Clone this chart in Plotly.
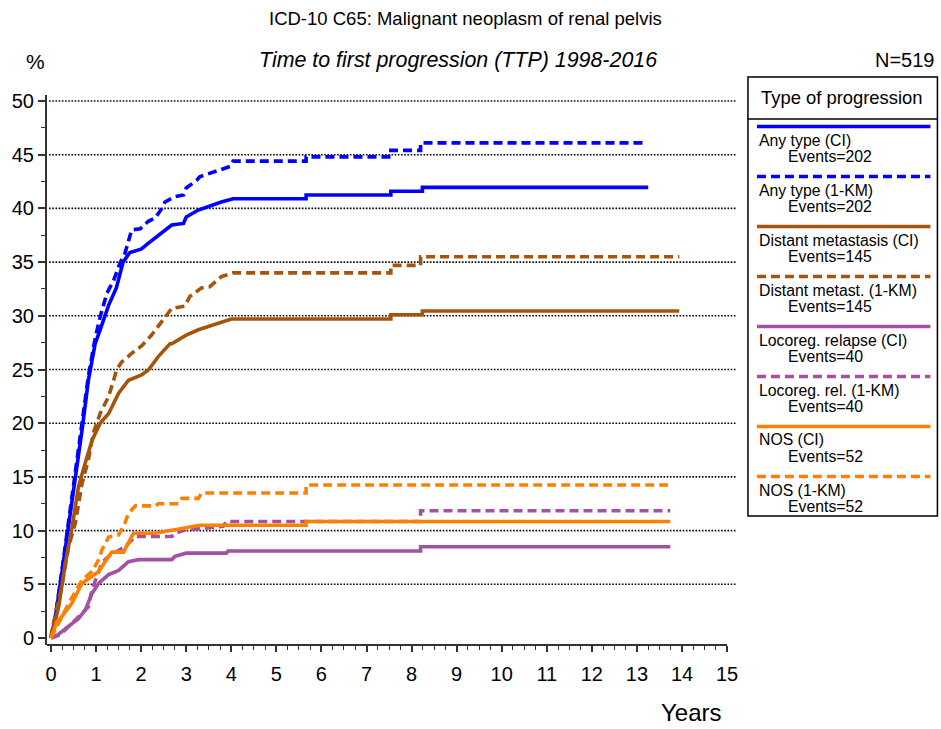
import plotly.graph_objects as go

# ---------------- data ----------------
SERIES_NAMES = ["Any type (CI)", "Any type (1-KM)", "Distant metastasis (CI)",
                "Distant metast. (1-KM)", "Locoreg. relapse (CI)", "Locoreg. rel. (1-KM)",
                "NOS (CI)", "NOS (1-KM)"]
EVENTS = [202, 202, 145, 145, 40, 40, 52, 52]

any_ci_t = [0, 0.1, 0.24, 0.39, 0.54, 0.69, 0.83, 0.98, 1.09, 1.2, 1.28, 1.45, 1.6, 1.75, 1.84, 2.0,
            2.17, 2.35, 2.46, 2.68, 2.94, 3.0, 3.27, 3.49, 3.78, 4.04, 5.66, 5.66, 7.54, 7.54, 8.24, 8.24, 13.25]
any_ci_v = [0, 2.0, 6.0, 10.4, 15.0, 19.4, 24.0, 27.4, 28.7, 30.0, 31.0, 32.6, 35.0, 35.9, 36.0, 36.2,
            36.8, 37.4, 37.7, 38.45, 38.6, 39.2, 39.85, 40.2, 40.6, 40.9, 40.9, 41.25, 41.25, 41.6, 41.6, 41.96, 41.96]

any_km_t = [0, 0.1, 0.24, 0.39, 0.54, 0.69, 0.83, 0.98, 1.09, 1.24, 1.39, 1.53, 1.64, 1.79, 1.98, 2.16,
            2.31, 2.46, 2.53, 2.75, 2.94, 3.0, 3.23, 3.3, 3.56, 3.75, 3.97, 4.04, 5.66, 5.66, 7.54, 7.54,
            8.2, 8.2, 13.2]
any_km_v = [0, 2.1, 6.2, 10.7, 15.3, 19.8, 24.4, 27.9, 29.9, 32.1, 33.3, 34.9, 35.8, 38.0, 38.1, 38.8,
            39.1, 40.0, 40.6, 41.1, 41.25, 41.9, 42.6, 42.95, 43.3, 43.6, 43.9, 44.4, 44.4, 44.8, 44.8, 45.4,
            45.4, 46.1, 46.1]

dist_ci_t = [0, 0.02, 0.17, 0.32, 0.46, 0.61, 0.76, 0.91, 1.09, 1.28, 1.5, 1.72, 2.01, 2.16, 2.38,
             2.64, 2.68, 3.0, 3.27, 3.56, 3.78, 4.0, 7.54, 7.54, 8.24, 8.24, 13.94]
dist_ci_v = [0, 0.3, 2.9, 7.0, 10.1, 14.1, 16.3, 18.4, 20.0, 20.9, 22.8, 24.0, 24.5, 24.95, 26.2,
             27.4, 27.4, 28.2, 28.7, 29.1, 29.45, 29.7, 29.7, 30.1, 30.1, 30.45, 30.45]

dist_km_t = [0, 0.02, 0.24, 0.39, 0.54, 0.69, 0.83, 0.94, 1.09, 1.28, 1.46, 1.57, 1.79, 2.01, 2.23,
             2.53, 2.68, 2.97, 3.08, 3.34, 3.52, 3.78, 4.04, 7.54, 7.54, 8.2, 8.2, 13.94]
dist_km_v = [0, 0.7, 4.8, 8.5, 10.7, 14.4, 16.6, 19.1, 20.9, 22.5, 25.0, 25.7, 26.5, 27.2, 28.2,
             29.8, 30.7, 30.9, 31.8, 32.6, 32.7, 33.65, 34.0, 34.0, 34.7, 34.7, 35.5, 35.5]

loco_ci_t = [0, 0.17, 0.39, 0.61, 0.76, 0.91, 1.06, 1.28, 1.5, 1.72, 1.94, 2.68, 2.75, 3.0, 3.89,
             3.93, 8.2, 8.2, 13.74]
loco_ci_v = [0, 0.35, 1.1, 1.8, 2.6, 4.15, 5.1, 5.9, 6.3, 7.1, 7.3, 7.3, 7.6, 7.9, 7.9,
             8.1, 8.1, 8.5, 8.5]

loco_km_t = [0, 0.2, 0.39, 0.69, 0.83, 0.91, 1.02, 1.13, 1.28, 1.46, 1.64, 1.87, 2.68, 2.75, 2.97,
             3.34, 3.82, 3.89, 8.2, 8.2, 13.74]
loco_km_v = [0, 0.3, 1.05, 2.3, 2.9, 4.5, 5.7, 7.0, 7.6, 8.05, 8.5, 9.45, 9.45, 9.75, 10.05,
             10.2, 10.4, 10.85, 10.85, 11.85, 11.85]

nos_ci_t = [0, 0.13, 0.24, 0.46, 0.69, 0.91, 1.06, 1.2, 1.35, 1.61, 1.83, 2.31, 2.9, 3.3, 5.66, 5.66, 13.74]
nos_ci_v = [0, 1.5, 2.0, 3.2, 5.1, 5.7, 6.2, 7.1, 8.0, 8.0, 9.75, 9.75, 10.2, 10.5, 10.5, 10.85, 10.85]

nos_km_t = [0, 0.21, 0.39, 0.69, 0.91, 1.06, 1.13, 1.28, 1.5, 1.64, 1.72, 1.87, 2.31, 2.38, 2.83,
            2.9, 3.27, 3.34, 5.66, 5.66, 13.7]
nos_km_v = [0, 1.7, 3.2, 5.4, 6.2, 7.3, 8.2, 9.4, 9.6, 10.7, 11.6, 12.3, 12.3, 12.5, 12.5,
            13.0, 13.0, 13.5, 13.5, 14.25, 14.25]

SERIES_T = [any_ci_t, any_km_t, dist_ci_t, dist_km_t, loco_ci_t, loco_km_t, nos_ci_t, nos_km_t]
SERIES_V = [any_ci_v, any_km_v, dist_ci_v, dist_km_v, loco_ci_v, loco_km_v, nos_ci_v, nos_km_v]

X_TICKS = list(range(0, 16))
Y_TICKS = list(range(0, 51, 5))

# ---------------- styles ----------------
COLORS = ["#0000FF", "#0000FF", "#A5540C", "#A5540C", "#A352A3", "#A352A3", "#FF8000", "#FF8000"]
DASHES = ["solid", "9px,5px"] * 4
FONT = "Liberation Sans, Arial, sans-serif"

W, H = 941, 729
ML, MR, MT, MB = 45, 204, 95, 84
XMIN, XMAX = -0.0885, 15.22
YMIN, YMAX = -0.65, 50.56

PW = W - ML - MR
PH = H - MT - MB


def px(x):
    return (x - ML) / PW


def py(y):
    return (H - MB - y) / PH


fig = go.Figure()
for name, t, v, c, d in zip(SERIES_NAMES, SERIES_T, SERIES_V, COLORS, DASHES):
    fig.add_trace(go.Scatter(x=t, y=v, mode="lines", name=name,
                             line=dict(color=c, width=3.6, dash=d), showlegend=False))

shapes = []
# dotted horizontal gridlines (except 0)
for v in Y_TICKS[1:]:
    shapes.append(dict(type="line", xref="paper", yref="y", x0=0.003, x1=1, y0=v, y1=v,
                       line=dict(color="black", width=1.6, dash="1.6px,1.6px"), layer="below"))
# x axis line (ends at last tick)
shapes.append(dict(type="line", xref="x", yref="paper", x0=XMIN, x1=X_TICKS[-1], y0=0, y1=0,
                   line=dict(color="#333333", width=2)))

annotations = []
# legend box
lx0, lx1, ly0, ly1 = 748, 938, 77, 516
shapes.append(dict(type="rect", xref="paper", yref="paper", x0=px(lx0), x1=px(lx1), y0=py(ly0), y1=py(ly1),
                   line=dict(color="black", width=1.5), fillcolor="rgba(0,0,0,0)"))
shapes.append(dict(type="line", xref="paper", yref="paper", x0=px(lx0), x1=px(lx1), y0=py(119), y1=py(119),
                   line=dict(color="black", width=1.5)))
annotations.append(dict(text="Type of progression", xref="paper", yref="paper", x=px(759), y=py(97),
                        xanchor="left", yanchor="middle", showarrow=False,
                        font=dict(family=FONT, size=18.4, color="black")))
for i, (name, ev, c, d) in enumerate(zip(SERIES_NAMES, EVENTS, COLORS, DASHES)):
    yl = 126.5 + 50 * i
    shapes.append(dict(type="line", xref="paper", yref="paper", x0=px(757), x1=px(931), y0=py(yl), y1=py(yl),
                       line=dict(color=c, width=3.6, dash=d)))
    annotations.append(dict(text=name, xref="paper", yref="paper", x=px(757), y=py(yl + 13.5),
                            xanchor="left", yanchor="middle", showarrow=False,
                            font=dict(family=FONT, size=15.8, color="black")))
    annotations.append(dict(text=f"Events={ev}", xref="paper", yref="paper", x=px(786), y=py(yl + 30),
                            xanchor="left", yanchor="middle", showarrow=False,
                            font=dict(family=FONT, size=15.8, color="black")))

# titles & labels
annotations += [
    dict(text="ICD-10 C65: Malignant neoplasm of renal pelvis", xref="paper", yref="paper",
         x=px(465), y=py(18), xanchor="center", yanchor="middle", showarrow=False,
         font=dict(family=FONT, size=18.5, color="black")),
    dict(text="<i>Time to first progression (TTP) 1998-2016</i>", xref="paper", yref="paper",
         x=px(457), y=py(60), xanchor="center", yanchor="middle", showarrow=False,
         font=dict(family=FONT, size=21.4, color="black")),
    dict(text="%", xref="paper", yref="paper", x=px(33), y=py(62), xanchor="center", yanchor="middle",
         showarrow=False, font=dict(family=FONT, size=21, color="black")),
    dict(text="N=519", xref="paper", yref="paper", x=px(938), y=py(60), xanchor="right", yanchor="middle",
         showarrow=False, font=dict(family=FONT, size=20, color="black")),
    dict(text="Years", xref="paper", yref="paper", x=px(691), y=py(712), xanchor="center", yanchor="middle",
         showarrow=False, font=dict(family=FONT, size=24, color="black")),
]

fig.update_layout(
    width=W, height=H, autosize=False,
    margin=dict(l=ML, r=MR, t=MT, b=MB, pad=0),
    paper_bgcolor="white", plot_bgcolor="white",
    shapes=shapes, annotations=annotations,
    showlegend=False,
    xaxis=dict(range=[XMIN, XMAX], tickvals=X_TICKS, showgrid=False, zeroline=False, showline=False,
               ticks="outside", ticklen=6, tickwidth=1.5, tickcolor="#333333",
               ticklabelstandoff=5,
               tickfont=dict(family=FONT, size=20, color="black"),
               minor=dict(dtick=0.25, tick0=0, ticks="outside", ticklen=4, tickwidth=1, tickcolor="#333333",
                          showgrid=False)),
    yaxis=dict(range=[YMIN, YMAX], tickvals=Y_TICKS, showgrid=False, zeroline=False, showline=True,
               linecolor="#333333", linewidth=2,
               ticks="outside", ticklen=7, tickwidth=1.5, tickcolor="#333333",
               tickfont=dict(family=FONT, size=20, color="black"),
               minor=dict(dtick=2.5, tick0=0, ticks="outside", ticklen=4, tickwidth=1, tickcolor="#333333",
                          showgrid=False)),
)

fig.write_html("out.html")
